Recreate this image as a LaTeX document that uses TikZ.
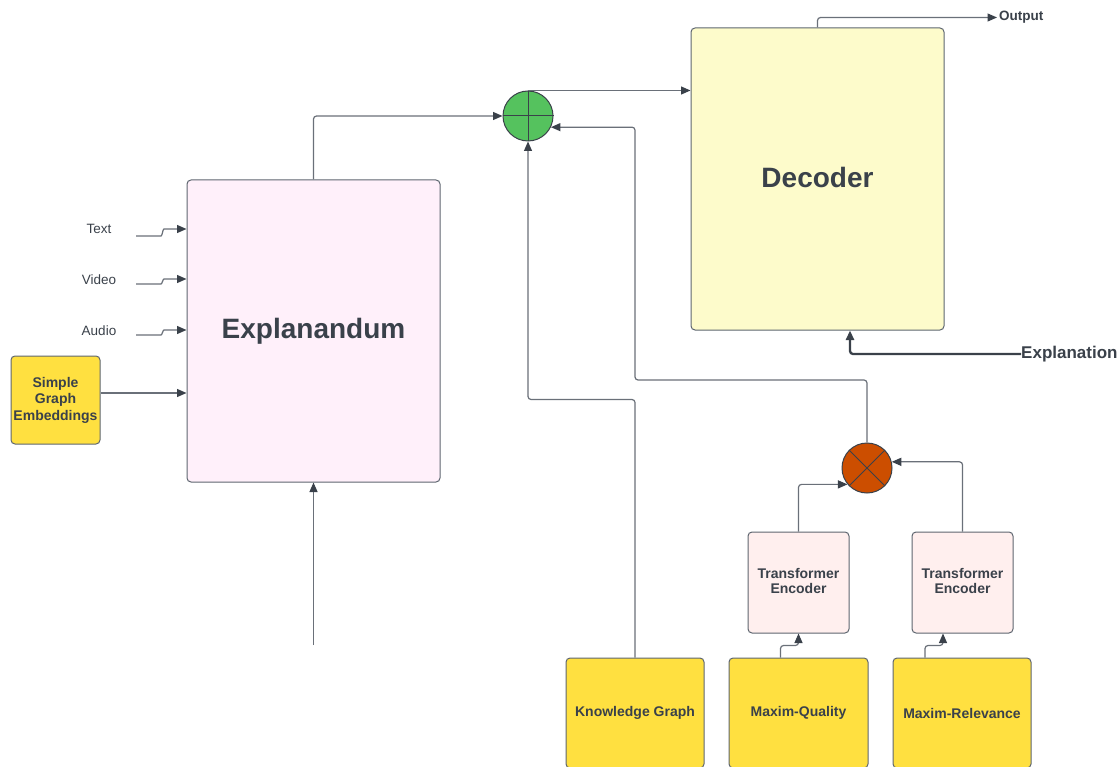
\documentclass[tikz,border=0pt]{standalone}
\usepackage{fontspec}
\setmainfont{Liberation Sans}
\usetikzlibrary{arrows.meta,calc}
\definecolor{bordc}{HTML}{5E6670}
\definecolor{txtc}{HTML}{3A414A}
\definecolor{linec}{HTML}{6A7079}
\definecolor{decfill}{HTML}{FDFBCB}
\definecolor{expfill}{HTML}{FFF0FA}
\definecolor{tefill}{HTML}{FFEFEE}
\definecolor{yel}{HTML}{FFE040}
\definecolor{grn}{HTML}{55C25E}
\definecolor{org}{HTML}{CC4E00}
\begin{document}
\begin{tikzpicture}[x=1pt,y=-1pt,
 box/.style={draw=bordc,line width=1pt,rounded corners=4pt,text=txtc,align=center,inner sep=2pt},
 big/.style={font=\fontsize{28}{32}\selectfont\bfseries},
 med/.style={font=\fontsize{14}{16.5}\selectfont\bfseries},
 lbl/.style={text=txtc,font=\fontsize{13.5}{16}\selectfont,inner sep=0pt},
 conn/.style={draw=linec,line width=1.2pt,rounded corners=3pt,-{Triangle[length=9.5pt,width=8pt,color=txtc]}},
 sumc/.style={circle,draw=txtc,line width=1pt,minimum size=50pt,inner sep=0pt}]
\clip (0,0) rectangle (1118,767);
\fill[white] (0,0) rectangle (1118,767);
% boxes
\node[box,big,fill=decfill,minimum width=253pt,minimum height=302pt] (dec) at (817.5,179) {\raisebox{4pt}{Decoder}};
\node[box,big,fill=expfill,minimum width=253pt,minimum height=302pt] (expl) at (313.5,331) {\raisebox{3pt}{Explanandum}};
\node[box,med,fill=yel,minimum width=89pt,minimum height=88pt] (sge) at (55.5,400) {Simple\\Graph\\Embeddings};
\node[box,med,fill=tefill,minimum width=101pt,minimum height=101pt] (te1) at (798.5,582.5) {\raisebox{2pt}{\begin{tabular}{@{}c@{}}Transformer\\[-1.5pt]Encoder\end{tabular}}};
\node[box,med,fill=tefill,minimum width=101pt,minimum height=101pt] (te2) at (962.5,582.5) {\raisebox{2pt}{\begin{tabular}{@{}c@{}}Transformer\\[-1.5pt]Encoder\end{tabular}}};
\node[box,med,fill=yel,minimum width=138pt,minimum height=110pt] (kg) at (635,713) {Knowledge Graph};
\node[box,med,fill=yel,minimum width=139pt,minimum height=110pt] (mq) at (798.5,713) {Maxim-Quality};
\node[box,med,fill=yel,minimum width=138pt,minimum height=110pt] (mr) at (962,713) {Maxim-Relevance};
% operators
\node[sumc,fill=grn] (gs) at (528,116) {};
\draw[txtc,line width=1pt] (gs.north) -- (gs.south) (gs.west) -- (gs.east);
\node[sumc,fill=org] (ms) at (867,468) {};
\draw[txtc,line width=1pt] (ms.45) -- (ms.225) (ms.135) -- (ms.315);
% labels
\node[lbl] (tx) at (99,229) {Text};
\node[lbl] (vd) at (99,280) {Video};
\node[lbl] (au) at (99,331) {Audio};
\node[lbl,font=\fontsize{13.5}{16}\selectfont\bfseries,anchor=west,inner sep=2pt] (out) at (997,17.5) {Output};
\node[lbl,font=\fontsize{17}{20}\selectfont\bfseries,anchor=west] (expn) at (1021,354) {Explanation};
% free ends
\coordinate (ts) at (136,236);
\coordinate (vs) at (136,284);
\coordinate (as) at (136,335);
\coordinate (eb) at (313.5,645);
\coordinate (j1) at (635,380);
% connectors
\draw[conn] (ts) -- ++(22,0) to[out=0,in=180] ++(9,-7) coordinate (tk) -- (tk -| expl.west);
\draw[conn] (vs) -- ++(22,0) to[out=0,in=180] ++(9,-5) coordinate (vk) -- (vk -| expl.west);
\draw[conn] (as) -- ++(22,0) to[out=0,in=180] ++(9,-5) coordinate (ak) -- (ak -| expl.west);
\draw[conn] ([yshift=7pt]sge.east) -- ([yshift=7pt]sge.east -| expl.west);
\draw[conn] (eb) -- (expl.south);
\draw[conn] (expl.north) |- (gs.west);
\draw[conn] (gs.north) -- (gs.north -| dec.west);
\draw[conn] (kg.north) -- ++(0,-258) -| (gs.south);
\draw[conn] (ms.north) |- (j1) |- (gs.-26);
\draw[conn] (te1.north) |- (ms.220);
\draw[conn] (te2.north) |- (ms.14);
\draw[conn] ([xshift=-18pt]mq.north) -- ++(0,-12) -| (te1.south);
\draw[conn] ([xshift=-37pt]mr.north) -- ++(0,-12) -| ([xshift=-19.5pt]te2.south);
\draw[conn] (dec.north) |- (out.west);
\draw[conn,draw=txtc,line width=2.3pt] (expn.west) -| ([xshift=32.5pt]dec.south);
\end{tikzpicture}
\end{document}
